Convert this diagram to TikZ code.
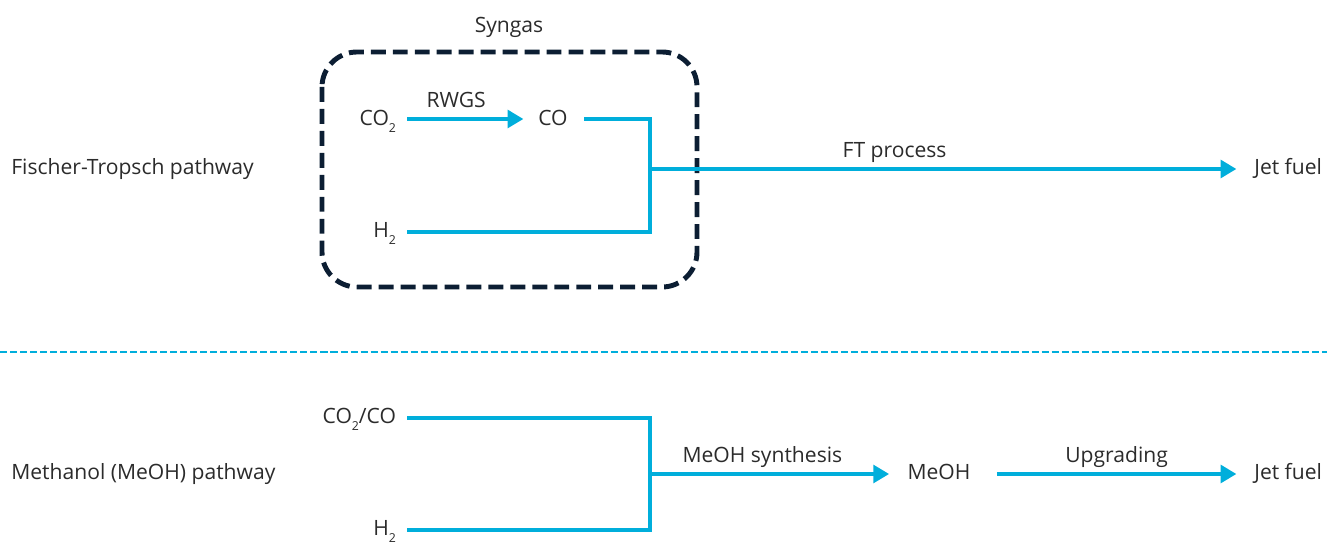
\documentclass[tikz,border=0pt]{standalone}
\usepackage{fontspec}
\setmainfont{Open Sans}
\usetikzlibrary{arrows.meta}

\definecolor{flowblue}{HTML}{00AEDB}
\definecolor{boxnavy}{HTML}{0C1E33}
\definecolor{txtgray}{HTML}{2B2B2B}

\newcommand{\subtwo}{\raisebox{-0.6ex}{\scriptsize 2}}

\tikzset{
  lbl/.style={text=txtgray, font=\fontsize{12}{14}\selectfont, inner sep=0pt,
              text height=1.6ex, text depth=0.35ex},
  chem/.style={lbl, outer sep=0pt},
  flow/.style={flowblue, line width=2.3pt},
  flowarrow/.style={flow, -{Triangle[length=9pt, width=10pt]}},
  steplabel/.style={lbl, above=3.5pt},
  syngasbox/.style={boxnavy, line width=2.8pt, dash pattern=on 8.5pt off 4pt,
                    rounded corners=0.7cm},
  divider/.style={flowblue, line width=1.1pt, dash pattern=on 4pt off 1.7pt}
}

\begin{document}
\begin{tikzpicture}[x=0.02cm, y=-0.02cm]
  \useasboundingbox (0,0) rectangle (1327,543);

  % Fischer-Tropsch
  \node[lbl, anchor=west] (ftpath) at (11,169) {Fischer-Tropsch pathway};
  \draw[syngasbox] (322,52) rectangle (697,287);
  \node[lbl] (syngas) at (509,27) {Syngas};

  \node[chem, anchor=east] (ftco2) at (396,120) {CO\subtwo};
  \node[chem] (ftco) at (553,120) {CO};
  \node[chem, anchor=east] (fth2) at (396,232) {H\subtwo};
  \node[lbl, anchor=west] (ftjet) at (1254,169) {Jet fuel};

  \coordinate (ftjoin) at (650,169);

  \draw[flowarrow] ([xshift=6.5pt]ftco2.east |- 0,119) -- ([xshift=-8.5pt]ftco.west |- 0,119)
    node[steplabel, pos=0.42] (rwgs) {RWGS};
  \draw[flow] ([xshift=9.5pt]ftco.east |- 0,119) -| (ftjoin);
  \draw[flow] ([xshift=6.5pt]fth2.east) -| (ftjoin);
  \draw[flowarrow] (ftjoin) -- ([xshift=-10pt]ftjet.west)
    node[steplabel, pos=0.417] (ftproc) {FT process};

  % Trennlinie
  \draw[divider] (0,352) -- (1327,352);

  % Methanol
  \node[lbl, anchor=west] (mepath) at (11,474) {Methanol (MeOH) pathway};

  \node[chem, anchor=east] (meco2) at (396,418) {CO\subtwo/CO};
  \node[chem, anchor=east] (meh2) at (396,530) {H\subtwo};
  \node[chem] (meoh) at (939,474) {MeOH};
  \node[lbl, anchor=west] (mejet) at (1254,474) {Jet fuel};

  \coordinate (mejoin) at (650,474);

  \draw[flow] ([xshift=6.5pt]meco2.east) -| (mejoin);
  \draw[flow] ([xshift=6.5pt]meh2.east) -| (mejoin);
  \draw[flowarrow] (mejoin) -- ([xshift=-10.5pt]meoh.west)
    node[steplabel, pos=0.47] (mesyn) {MeOH synthesis};
  \draw[flowarrow] ([xshift=15pt]meoh.east) -- ([xshift=-10pt]mejet.west)
    node[steplabel, pos=0.5] (upgr) {Upgrading};
\end{tikzpicture}
\end{document}
